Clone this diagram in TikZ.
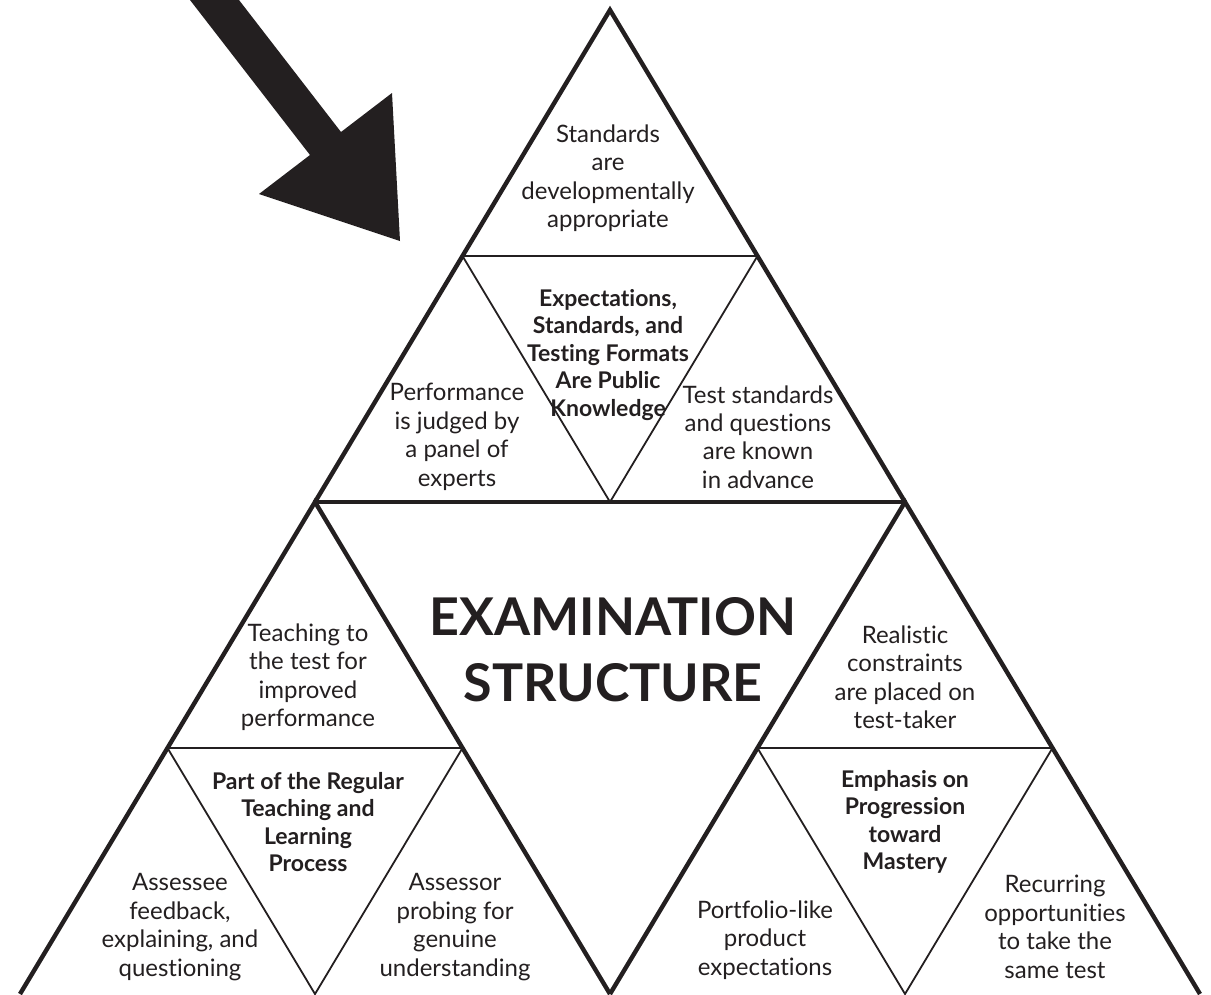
\documentclass[tikz,border=0pt]{standalone}
\usepackage{fontspec}
\setmainfont{Lato}[Ligatures=NoCommon]
\usetikzlibrary{calc}
\definecolor{ink}{RGB}{35,31,32}
\tikzset{
    side/.style={draw=ink, line width=4.4pt, line join=miter},
    split/.style={draw=ink, line width=1.8pt},
    txt/.style={text=ink, align=center, inner sep=0pt, font=\fontsize{24}{28.5}\selectfont},
    key/.style={text=ink, align=center, inner sep=0pt, font=\fontsize{23}{27.5}\selectfont\bfseries},
    title/.style={text=ink, align=center, inner sep=0pt, font=\fontsize{52}{66}\selectfont\bfseries}
}

\begin{document}
\begin{tikzpicture}[x=1pt,y=-1pt]
                \useasboundingbox (0,0) rectangle (1211,994);
                % three corner triangles, each split in four
                \foreach \ax/\ay in {610/10, 315/502, 905/502}{
                    \draw[split] (\ax-147.5,\ay+246) -- (\ax+147.5,\ay+246) -- (\ax,\ay+492) -- cycle;
                    \draw[side] (\ax-295,\ay+492) -- (\ax,\ay) -- (\ax+295,\ay+492);
                }
                \draw[side] (315,502) -- (905,502);
                % arrow
                \coordinate (shaftL) at (190,0);
                \coordinate (shaftR) at (239,0);
                \coordinate (neckL) at (310,155);
                \coordinate (neckR) at (341,132);
                \coordinate (barbL) at (259,194);
                \coordinate (barbR) at (392,93);
                \coordinate (tip) at (400,241);
                \fill[ink] (shaftL) -- (neckL) -- (barbL) -- (tip) -- (barbR) -- (neckR) -- (shaftR) -- cycle;
                % texts
                \node[txt] (devel) at (608,178) {Standards\\are\\developmentally\\appropriate};
                \node[key] (public) at (608,355) {Expectations,\\Standards, and\\Testing Formats\\Are Public\\Knowledge};
                \node[txt] (panel) at (457,437) {Performance\\is judged by\\a panel of\\experts};
                \node[txt] (advance) at (758,437) {Test standards\\and questions\\are known\\in advance};
                \node[title] (exam) at (613,650) {EXAMINATION\\STRUCTURE};
                \node[txt] (teach) at (308,677) {Teaching to\\the test for\\improved\\performance};
                \node[txt] (limits) at (905,677) {Realistic\\constraints\\are placed on\\test-taker};
                \node[key] (regular) at (308,822) {Part of the Regular\\Teaching and\\Learning\\Process};
                \node[key] (mastery) at (905,822) {Emphasis on\\Progression\\toward\\Mastery};
                \node[txt] (assessee) at (180,927) {Assessee\\feedback,\\explaining, and\\questioning};
                \node[txt] (assessor) at (455,927) {Assessor\\probing for\\genuine\\understanding};
                \node[txt] (folio) at (765,940) {Portfolio-like\\product\\expectations};
                \node[txt] (retake) at (1055,927) {Recurring\\opportunities\\to take the\\same test};
            \end{tikzpicture}
\end{document}
